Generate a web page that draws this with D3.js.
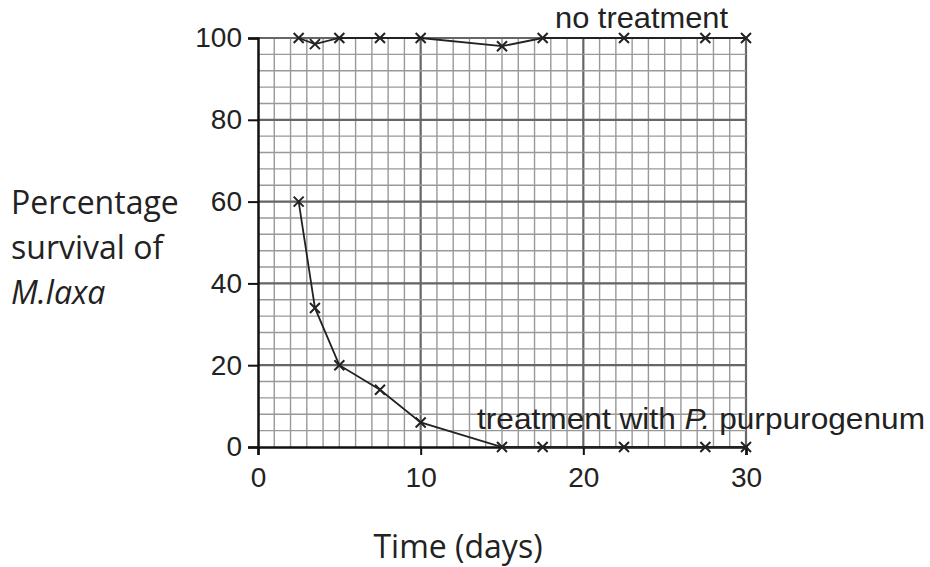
<!DOCTYPE html>
<html>
<head>
<meta charset="utf-8">
<script src="https://cdn.jsdelivr.net/npm/d3@7"></script>
<style>
body{margin:0;background:#fff;}
svg{display:block;}
</style>
</head>
<body>
<svg width="930" height="567"></svg>
<script>
// values
var days = [2.5, 3.5, 5, 7.5, 10, 15, 17.5, 22.5, 27.5, 30];
var noTreatment = [100, 98.5, 100, 100, 100, 98, 100, 100, 100, 100];
var withTreatment = [60, 34, 20, 14, 6, 0, 0, 0, 0, 0];
var xTicks = [0, 10, 20, 30];
var yTicks = [0, 20, 40, 60, 80, 100];

var svg = d3.select("svg");
var x = d3.scaleLinear().domain([0, 30]).range([258, 746]);
var y = d3.scaleLinear().domain([0, 100]).range([447, 38]);

// graph paper
var grid = svg.append("g");
grid.selectAll(".vx").data(d3.range(1, 31))
	.enter().append("line")
	.attr("x1", function(d){ return x(d); })
	.attr("x2", function(d){ return x(d); })
	.attr("y1", y(0)).attr("y2", y(100))
	.attr("stroke", function(d){ return d%10==0 ? "#666" : "#999"; })
	.attr("stroke-width", function(d){ return d%10==0 ? 2.2 : 1.4; });
grid.selectAll(".hy").data(d3.range(4, 101, 4))
	.enter().append("line")
	.attr("y1", function(d){ return y(d); })
	.attr("y2", function(d){ return y(d); })
	.attr("x1", x(0)).attr("x2", x(30))
	.attr("stroke", "#999").attr("stroke-width", 1.4);
grid.selectAll(".hm").data([20, 40, 60, 80, 100])
	.enter().append("line")
	.attr("y1", function(d){ return y(d); })
	.attr("y2", function(d){ return y(d); })
	.attr("x1", x(0)).attr("x2", x(30))
	.attr("stroke", "#666").attr("stroke-width", 2.2);

// axes
var arial = "Liberation Sans, Arial, sans-serif";
var xAxis = svg.append("g").attr("transform", "translate(0," + y(0) + ")")
	.call(d3.axisBottom(x).tickValues(xTicks).tickSize(8).tickPadding(12));
var yAxis = svg.append("g").attr("transform", "translate(" + x(0) + ",0)")
	.call(d3.axisLeft(y).tickValues(yTicks).tickSize(10).tickPadding(6));
[xAxis, yAxis].forEach(function(a){
	a.select(".domain").attr("stroke", "#111").attr("stroke-width", 2.5);
	a.selectAll(".tick line").attr("stroke", "#111").attr("stroke-width", 2);
	a.selectAll(".tick text").attr("fill", "#222")
		.style("font-family", arial).style("font-size", "28px");
});

// series
var line = d3.line().x(function(d){ return x(d[0]); }).y(function(d){ return y(d[1]); });
var series = [d3.zip(days, noTreatment), d3.zip(days, withTreatment)];
series.forEach(function(s){
	svg.append("path").datum(s).attr("d", line)
		.attr("fill", "none").attr("stroke", "#222").attr("stroke-width", 1.8);
	svg.selectAll(null).data(s).enter().append("path")
		.attr("d", function(d){
			var cx = x(d[0]), cy = y(d[1]), r = 5;
			return "M"+(cx-r)+","+(cy-r)+"L"+(cx+r)+","+(cy+r)+"M"+(cx-r)+","+(cy+r)+"L"+(cx+r)+","+(cy-r);
		})
		.attr("stroke", "#222").attr("stroke-width", 2);
});

// labels on the curves
svg.append("text").attr("x", 555).attr("y", 28)
	.attr("textLength", 173).attr("lengthAdjust", "spacingAndGlyphs")
	.style("font-family", arial).style("font-size", "30px").attr("fill", "#222")
	.text("no treatment");
var t2 = svg.append("text").attr("x", 477).attr("y", 429)
	.attr("textLength", 448).attr("lengthAdjust", "spacingAndGlyphs")
	.style("font-family", arial).style("font-size", "30px").attr("fill", "#222");
t2.append("tspan").text("treatment with ");
t2.append("tspan").style("font-style", "italic").text("P.");
t2.append("tspan").text(" purpurogenum");

// axis titles
var sans = "Open Sans, Noto Sans, sans-serif";
var yl = svg.append("text").style("font-family", sans).style("font-size", "32px").attr("fill", "#222");
yl.append("tspan").attr("x", 11).attr("y", 214).text("Percentage");
yl.append("tspan").attr("x", 11).attr("y", 259).text("survival of");
yl.append("tspan").attr("x", 11).attr("y", 304).style("font-style", "italic").text("M.laxa");
svg.append("text").attr("x", 458).attr("y", 558).attr("text-anchor", "middle")
	.style("font-family", sans).style("font-size", "32px").attr("fill", "#222")
	.text("Time (days)");
</script>
</body>
</html>
